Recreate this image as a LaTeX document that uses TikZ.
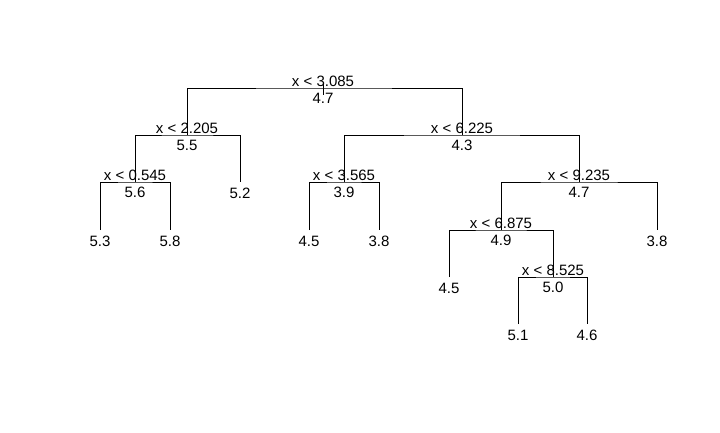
\documentclass[tikz,border=0pt]{standalone}
\usepackage{fontspec}
\setmainfont{Liberation Sans}
\usetikzlibrary{calc}

\begin{document}
\begin{tikzpicture}[x=1pt,y=-1pt,line width=1pt,
    splitlab/.style={anchor=base,yshift=2pt,inner sep=0pt},
    meanlab/.style={anchor=base,yshift=-15pt,inner sep=0pt},
    leaflab/.style={anchor=base,yshift=-16pt,inner sep=0pt}]
  \fontsize{15}{18}\selectfont
  \useasboundingbox (0,0) rectangle (720,432);
  % tree positions (split nodes and leaves)
  \foreach \n/\x/\y in {root/323/88, nA/187/135, nB/462/135, nC/135/182,
      nD/344/182, nE/579/182, nF/501/230, nG/553/277,
      lA/100/230, lB/170/230, lC/240/182, lD/309/230, lE/379/230,
      lF/449/277, lG/657/230, lH/518/324, lI/587/324}
    \coordinate (\n) at (\x,\y);
  % splits: name/left/right/threshold/mean
  \foreach \n/\l/\r/\t/\v in {root/nA/nB/3.085/4.7, nA/nC/lC/2.205/5.5,
      nB/nD/nE/6.225/4.3, nC/lA/lB/0.545/5.6, nD/lD/lE/3.565/3.9,
      nE/nF/lG/9.235/4.7, nF/lF/nG/6.875/4.9, nG/lH/lI/8.525/5.0} {
    \draw (\l) |- (\n) -| (\r);
    \node[splitlab] (\n-s) at (\n) {x < \t};
    \node[meanlab] (\n-v) at (\n) {\v};
  }
  % leaves
  \foreach \n/\v in {lA/5.3, lB/5.8, lC/5.2, lD/4.5, lE/3.8,
      lF/4.5, lG/3.8, lH/5.1, lI/4.6}
    \node[leaflab] (\n-v) at (\n) {\v};
  % root stem
  \draw (root) ++(0,-5) -- ++(0,12);
\end{tikzpicture}
\end{document}
